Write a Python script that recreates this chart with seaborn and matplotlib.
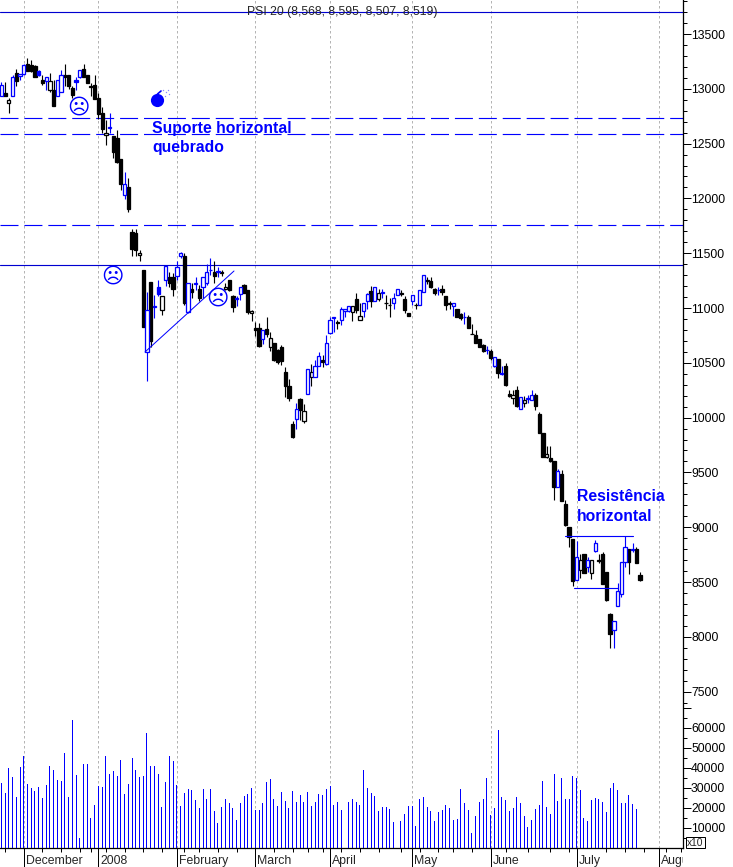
import numpy as np
import pandas as pd
import matplotlib
matplotlib.use("Agg")
import matplotlib.pyplot as plt
from matplotlib.patches import Rectangle
from matplotlib.transforms import Bbox
import seaborn as sns

# daily candles, PSI 20
opens = [12930,12960,12870,12935,13140,13115,13135,13225,13215,13205,
13165,13080,13075,12985,12985,12930,12975,13125,13125,13005,
13080,13105,13185,13125,13015,13035,12920,12780,12580,12645,
12570,12550,12355,12035,12100,11695,11680,11480,11350,10600,
11235,11010,11190,10980,11255,11280,11280,11290,11470,11475,
10960,11175,11220,11175,11195,11225,11345,11330,11340,11325,
11170,11255,11105,11085,11130,11210,11160,10950,10815,10815,
10715,10805,10640,10680,10615,10645,10420,10285,9940,9985,
10170,9965,10215,10375,10370,10475,10525,10485,10770,10905,
10870,10895,10975,10975,10965,11080,10895,10975,11060,11155,
11060,11080,11140,11050,11030,11045,11120,11135,11080,10950,
11060,11030,11030,11145,11245,11245,11170,11160,11175,11110,
11045,11020,10990,10945,10915,10915,10765,10755,10715,10665,
10615,10610,10470,10535,10410,10470,10215,10175,10250,10075,
10135,10170,10165,10205,10035,9855,9645,9630,9605,9370,
9485,9210,9005,8890,8520,8610,8760,8635,8585,8785,
8700,8760,8590,8210,8060,8280,8395,8685,8800,8805,
8805,8568]
highs = [13060,13065,12915,13125,13185,13135,13230,13280,13265,13215,
13170,13125,13105,13140,13080,13080,13175,13225,13125,13025,
13110,13175,13225,13125,13050,13125,12960,12830,12715,12780,
12570,12620,12355,12245,12185,11725,11725,11530,11350,11150,
11235,11120,11260,11110,11385,11330,11315,11425,11515,11500,
11225,11225,11280,11210,11280,11400,11455,11425,11370,11345,
11230,11260,11120,11110,11190,11215,11160,10980,10875,10865,
10795,10915,10785,10685,10625,10665,10460,10350,9965,10135,
10175,10125,10440,10490,10525,10600,10570,10755,10920,10915,
10895,11005,10995,11020,11020,11135,11045,11050,11135,11200,
11195,11170,11170,11120,11090,11135,11170,11160,11110,10950,
11120,11050,11160,11305,11280,11280,11180,11195,11210,11110,
11065,11050,10990,10950,10965,10935,10855,10795,10715,10670,
10655,10630,10550,10535,10470,10495,10250,10250,10290,10185,
10195,10205,10250,10220,10055,9855,9740,9740,9605,9535,
9520,9250,9005,8890,8870,8760,8760,8730,8700,8885,
8755,8775,8590,8215,8140,8495,8685,8920,8800,8855,
8820,8595]
lows = [12930,12930,12780,12930,13025,13080,13125,13165,13155,13105,
13115,13035,12990,12975,12845,12930,12975,13025,12995,12920,
12985,13095,13105,13050,12930,12905,12720,12600,12485,12600,
12365,12320,12075,11995,11880,11470,11470,11425,10830,10330,
10645,10910,11110,10935,11205,11195,11110,11260,11460,11030,
10955,11095,11165,11065,11095,11210,11300,11230,11285,11295,
11165,11155,10965,11020,11075,11135,10945,10885,10745,10645,
10670,10735,10610,10520,10490,10480,10190,10150,9810,9900,
9980,9955,10215,10285,10370,10475,10465,10480,10765,10785,
10805,10845,10920,10965,10885,10955,10890,10920,10995,11010,
11060,11060,11095,10995,10920,10995,11120,11110,10955,10930,
11025,10995,11025,11145,11220,11180,11120,11120,11120,10980,
10990,10925,10920,10895,10855,10815,10760,10680,10640,10595,
10580,10530,10460,10360,10390,10290,10185,10125,10100,10075,
10100,10130,10165,10065,9860,9645,9635,9595,9250,9370,
9240,9010,8815,8460,8520,8540,8580,8595,8525,8770,
8675,8480,8330,7895,7900,8280,8360,8640,8575,8770,
8670,8507]
closes = [13035,12935,12900,13110,13075,13135,13215,13165,13165,13110,
13125,13055,13105,13075,12845,13080,13125,13105,13025,12945,
13065,13175,13110,13055,13030,12905,12770,12630,12595,12650,
12425,12335,12130,12135,11905,11540,11530,11500,10830,10980,
10700,11015,11130,11110,11385,11225,11175,11370,11500,11045,
11225,11145,11225,11095,11280,11330,11350,11295,11325,11320,
11195,11165,11010,11090,11190,11140,10965,10975,10795,10655,
10795,10765,10725,10525,10510,10520,10285,10180,9820,10075,
10070,10060,10440,10420,10475,10560,10510,10685,10890,10915,
10860,10995,10995,11020,11020,10980,10930,11050,11130,11060,
11195,11135,11145,11045,11025,11095,11170,11130,10980,10930,
11120,11025,11160,11305,11260,11195,11135,11165,11150,11030,
11040,11050,10920,10905,10920,10820,10760,10685,10645,10610,
10620,10545,10550,10410,10400,10295,10200,10210,10105,10185,
10165,10180,10210,10110,9860,9645,9670,9600,9365,9515,
9240,9020,8915,8505,8730,8705,8580,8705,8700,8860,
8695,8480,8335,8030,8140,8420,8685,8820,8685,8795,
8670,8519]
# k black filled, h black hollow, u blue hollow, f blue filled
kinds = ("ukhukuukkk" +
         "fkuhkuukkk" + "fukkhkkkhu" + "kkkukkkhku" + "kufhukkuuk" +
         "ukukuuukfk" + "hkkuukkhkk" + "ukhkkkkkku" + "khuhuukuuu" +
         "kuuuhkhuuk" + "uhukkuukkk" + "ukuuhkkukk" + "kukkukkkkk" +
         "ukukfkkhku" + "huukkkhkku" + "kkkkuhkuhu" + "kkkkuuuukf" + "kk")
volume = [32500,27500,40000,35500,25500,40500,46000,32000,30000,28700,
30500,25200,31500,41200,39200,34200,33700,47500,25500,64200,
36500,5200,42200,42200,15200,21500,31200,30500,46200,37200,
38700,36200,44200,27200,32200,45200,39200,35500,36200,57700,
41200,41200,37200,20700,33200,46200,43700,31700,21200,27700,
29700,29200,24200,20200,29700,24700,29700,18700,12700,20700,
24700,22700,20200,14200,22700,26200,27200,30200,19200,19200,
22700,33200,34700,24700,21200,28200,23700,20200,28700,23200,
26700,23200,28200,21200,23200,27200,26700,29700,31200,21700,
23200,19200,0,23200,24700,23200,21700,39200,30200,
27700,26200,18700,20700,20700,19700,13200,0,13700,17200,
21200,21200,11200,24700,25700,20700,18700,13700,18200,19200,
21700,20200,14200,14700,29700,22700,19200,7700,16200,23200,
24700,35200,16700,20200,59200,25700,24200,18700,20200,25700,
22700,16200,10700,14200,19700,21700,33700,20700,17200,37200,
23700,35200,24700,24700,36200,35200,29200,15200,13700,24200,
25200,24700,23200,18200,30200,32700,29200,22700,22700,26700,
22200,19700,0]

month_starts = [6, 26, 47, 68, 88, 110, 131, 154, 176]
month_labels = ["December", "2008", "February", "March", "April", "May", "June", "July", "August"]
week_ticks = [1, 11, 16, 21, 24, 28, 33, 38, 43, 49, 53, 58, 63, 73, 78, 82, 86, 91, 96,
              101, 107, 112, 117, 121, 126, 135, 141, 147, 152, 162, 167, 172, 178, 182]
price_labels = list(range(7500, 14000, 500))
vol_labels = [10000, 20000, 30000, 40000, 50000, 60000]
dashed_levels = [12733, 12588, 11757]
solid_levels = [13705, 11392]

assert len(opens) == len(highs) == len(lows) == len(closes) == len(kinds) == len(volume), \
    (len(opens), len(highs), len(lows), len(closes), len(kinds), len(volume))

sns.set_style("white")
plt.rcParams["font.family"] = ["Liberation Sans", "DejaVu Sans"]

BLUE = "#0000ff"
W, H = 733, 867
R, B = 683, 848
lw = 0.72


def dx(x):
    return (x - 1.33) / 3.735


def dy(y):
    return 13500 - (y - 34) * 9.124


df = pd.DataFrame({"day": np.arange(len(opens)), "open": opens, "high": highs, "low": lows,
                   "close": closes, "kind": list(kinds), "volume": volume})

fig = plt.figure(figsize=(W / 100, H / 100), dpi=100, facecolor="white")
ax = fig.add_axes([0, (H - B) / H, R / W, B / H])
ax2 = ax.twinx()

# volume shares the frame, 20 px for each 10000
sns.barplot(data=df, x="day", y="volume", native_scale=True, color=BLUE, saturation=1,
            width=1 / 3.735, linewidth=0, ax=ax2)
for p in ax2.patches:
    p.set_antialiased(False)

for x in month_starts:
    ax.axvline(x, color="#b4b4b4", lw=lw, ls=(0, (2.5, 2.5)), zorder=0)
for lev in dashed_levels:
    ax.axhline(lev, color=BLUE, lw=lw + 0.1, ls=(0, (15.8, 5.2)), zorder=1)
for lev in solid_levels:
    ax.axhline(lev, color="#0000d0", lw=lw + 0.1, zorder=1)

styles = {"k": ("black", "black"), "h": ("white", "black"), "u": ("white", BLUE), "f": (BLUE, BLUE)}
for kind, (face, edge) in styles.items():
    d = df[df["kind"] == kind]
    ax.vlines(d["day"], d["low"], d["high"], color=edge, lw=lw + 0.1, zorder=3)
    bottom = d[["open", "close"]].min(axis=1)
    height = (d["open"] - d["close"]).abs()
    ax.bar(d["day"], height, bottom=bottom, width=0.88, color=face, edgecolor=edge, lw=lw + 0.2, zorder=4)

# trend lines
ax.plot([dx(145), dx(234)], [dy(352), dy(271)], color=BLUE, lw=lw, zorder=5)
ax.plot([dx(565), dx(633)], [dy(536), dy(536)], color=BLUE, lw=lw + 0.1, zorder=5)
ax.plot([dx(574), dx(618)], [dy(588), dy(588)], color=BLUE, lw=lw + 0.1, zorder=5)

ax.set_xlim(dx(0), dx(R))
ax2.set_xlim(dx(0), dx(R))
ax.set_ylim(dy(B), dy(0))
ax2.set_ylim(0, B * 500)
ax2.set_xlabel("")
ax2.set_ylabel("")
ax.set_xlabel("")
ax.set_ylabel("")

ax.yaxis.tick_right()
ax.set_yticks(price_labels)
ax.set_yticklabels([str(v) for v in price_labels], fontsize=8.8)
ax.set_yticks(np.arange(7400, 13900, 100), minor=True)
ax2.yaxis.tick_right()
ax2.set_yticks(vol_labels + [70000])
ax2.set_yticklabels([str(v) for v in vol_labels] + [""], fontsize=8.8)
ax2.set_yticks(np.arange(5000, 70000, 10000), minor=True)
for a in (ax, ax2):
    a.tick_params(axis="y", which="major", length=5.8, width=lw, pad=0, color="black", labelcolor="black")
    a.tick_params(axis="y", which="minor", length=3, width=lw, color="black", left=False, right=True)
    for s in ("top", "left"):
        a.spines[s].set_visible(False)
    a.spines["right"].set_linewidth(lw + 0.1)
    a.spines["right"].set_color("black")
    a.spines["bottom"].set_linewidth(lw + 0.1)
    a.spines["bottom"].set_color("black")
ax.set_xticks(month_starts)
ax.set_xticklabels([])
ax.set_xticks(week_ticks, minor=True)
ax.tick_params(axis="x", which="major", length=13.7, width=lw, color="black", bottom=True)
ax.tick_params(axis="x", which="minor", length=3.2, width=lw, color="black", bottom=True)

for m, lab in zip(month_starts, month_labels):
    t = ax.annotate(lab, xy=(m, 0), xycoords=("data", "axes fraction"), xytext=(2, -13),
                    textcoords="offset pixels", ha="left", va="center", fontsize=8.8,
                    annotation_clip=False)
    t.set_clip_on(True)
    t.set_clip_box(Bbox([[0, 0], [R, H]]))

ax.text(dx(342), dy(12), "PSI 20 (8,568, 8,595, 8,507, 8,519)", ha="center", va="center",
        fontsize=8.8, zorder=6)
for x, y, s in [(152, 133, "Suporte horizontal"), (152, 152, "quebrado"),
                (577, 501, "Resistência"), (577, 521, "horizontal")]:
    ax.text(dx(x), dy(y), s, color=BLUE, fontsize=11.3, fontweight="bold", va="baseline", zorder=6)

# smileys and bomb
for x, y in [(78, 108), (112, 277), (217, 299)]:
    ax.text(dx(x), dy(y), "\u2639", color=BLUE, fontsize=15.5, ha="center", va="center",
            family="DejaVu Sans", zorder=6)
ax.plot(dx(157), dy(100), "o", color=BLUE, ms=9.5, mew=0, zorder=6)
ax.plot([dx(157.5), dx(161)], [dy(94), dy(91)], color=BLUE, lw=1.2, zorder=6)
ax.plot([dx(163), dx(166), dx(169), dx(165), dx(168)], [dy(90), dy(92), dy(94), dy(96), dy(90)],
        ".", color="#8888ff", ms=2, mew=0, zorder=6)

# x10 box under the volume scale
fig.add_artist(Rectangle((686 / W, (H - B) / H), 19 / W, 11 / H, transform=fig.transFigure,
                         fc="white", ec="black", lw=lw))
fig.text(695.5 / W, (H - 843) / H, "x10", fontsize=7.4, ha="center", va="center")

fig.savefig("out.png", dpi=100)
